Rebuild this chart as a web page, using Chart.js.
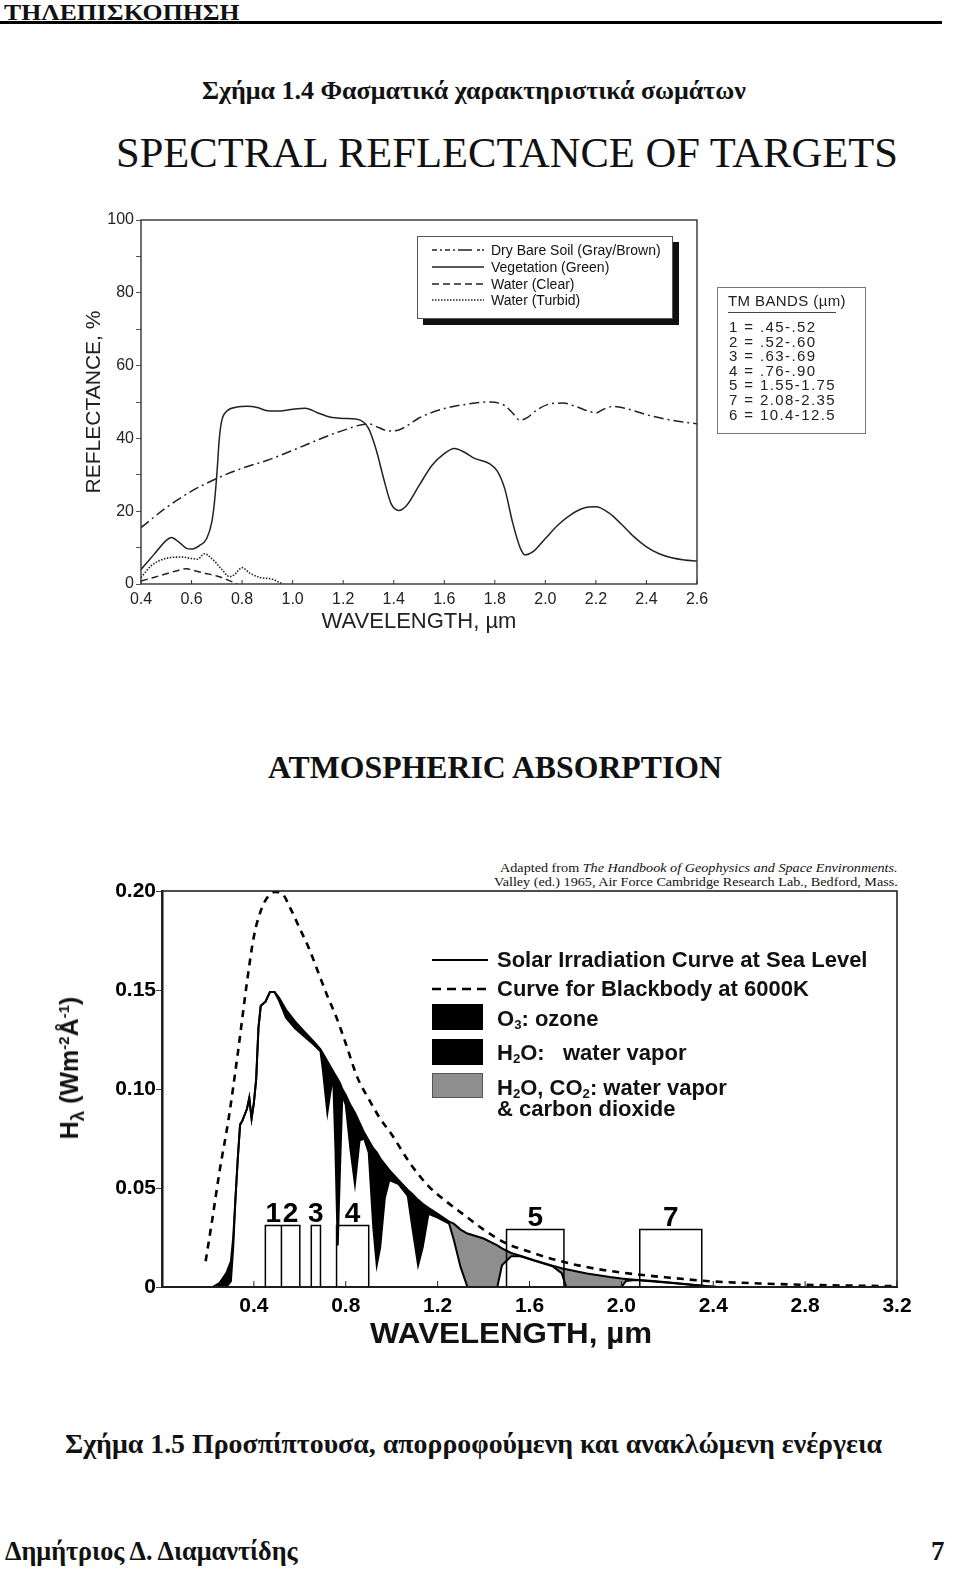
<!DOCTYPE html>
<html lang="el">
<head>
<meta charset="UTF-8">
<title>Φασματικά χαρακτηριστικά σωμάτων</title>
<script src="https://cdn.jsdelivr.net/npm/chart.js"></script>
<style>
  body { margin: 0; background: #fff; }
  #page { position: relative; width: 960px; height: 1593px; overflow: hidden; background: #fff; color: #111;
          font-family: "Liberation Sans", Arial, sans-serif; }
  .abs { position: absolute; white-space: nowrap; line-height: 1; }
  .serif { font-family: "Liberation Serif", "Times New Roman", serif; }
  .fit { transform-origin: 0 50%; }
  .fitR { transform-origin: 100% 50%; }
  #c1wrap { position: absolute; left: 50px; top: 200px; width: 680px; height: 450px; }
  #c2wrap { position: absolute; left: 20px; top: 865px; width: 920px; height: 500px; }
  .lg1 { position: absolute; left: 417px; top: 236px; width: 254px; height: 81px; border: 1px solid #555;
         box-shadow: 6px 6px 0 #111; background: #fff; font-size: 14px; }
  .lg1 .row { position: absolute; left: 14px; height: 16px; display: flex; align-items: center; }
  .lg1 svg { width: 52px; height: 6px; margin-right: 7px; }
  .tm { position: absolute; left: 717px; top: 287px; width: 147px; height: 145px; border: 1px solid #777;
        font-size: 15px; letter-spacing: 1.4px; color: #222; }
  .tm .hd { position: absolute; left: 10px; top: 5px; letter-spacing: 0.4px; }
  .tm .ul { position: absolute; left: 10px; top: 24px; width: 108px; height: 1px; background: #444; }
  .tm .r { position: absolute; left: 11px; }
  .lg2 { font-size: 22px; font-weight: bold; }
  .lg2 sub { font-size: 0.6em; vertical-align: -0.2em; }
  .patch { position: absolute; left: 432px; width: 51px; height: 26px; }
</style>
</head>
<body>
<div id="page">
  <div class="abs serif fit" data-w="236" style="left:4px; top:0px; font-size:24px; font-weight:bold;">ΤΗΛΕΠΙΣΚΟΠΗΣΗ</div>
  <div class="abs" style="left:0; top:21px; width:942px; height:3px; background:#000;"></div>

  <div class="abs serif fit" data-w="544" style="left:202px; top:78px; font-size:26px; font-weight:bold;">Σχήμα 1.4 Φασματικά χαρακτηριστικά σωμάτων</div>
  <div class="abs serif fit" data-w="782" style="left:116px; top:131px; font-size:43px;">SPECTRAL REFLECTANCE OF TARGETS</div>

  <div id="c1wrap"><canvas id="chartRefl"></canvas></div>

  <div class="lg1">
    <div class="row" style="top:5px;"><svg><line x1="0" y1="3" x2="52" y2="3" stroke="#222" stroke-width="1.4" stroke-dasharray="5,3,2,3,5,3,2,3,14"/></svg>Dry Bare Soil (Gray/Brown)</div>
    <div class="row" style="top:22px;"><svg><line x1="0" y1="3" x2="52" y2="3" stroke="#222" stroke-width="1.4"/></svg>Vegetation (Green)</div>
    <div class="row" style="top:39px;"><svg><line x1="0" y1="3" x2="52" y2="3" stroke="#222" stroke-width="1.4" stroke-dasharray="7,4"/></svg>Water (Clear)</div>
    <div class="row" style="top:55px;"><svg><line x1="0" y1="3" x2="52" y2="3" stroke="#222" stroke-width="1.6" stroke-dasharray="1.5,1.5"/></svg>Water (Turbid)</div>
  </div>

  <div class="tm">
    <div class="abs hd">TM BANDS (µm)</div>
    <div class="ul"></div>
    <div class="abs r" style="top:31px;">1 = .45-.52</div>
    <div class="abs r" style="top:46px;">2 = .52-.60</div>
    <div class="abs r" style="top:60px;">3 = .63-.69</div>
    <div class="abs r" style="top:75px;">4 = .76-.90</div>
    <div class="abs r" style="top:89px;">5 = 1.55-1.75</div>
    <div class="abs r" style="top:104px;">7 = 2.08-2.35</div>
    <div class="abs r" style="top:119px;">6 = 10.4-12.5</div>
  </div>

  <div class="abs serif fit" data-w="454" style="left:268px; top:752px; font-size:31px; font-weight:bold;">ATMOSPHERIC ABSORPTION</div>
  <div class="abs serif fitR" data-w="398" style="right:62px; top:861px; font-size:13px;">Adapted from <i>The Handbook of Geophysics and Space Environments.</i></div>
  <div class="abs serif fitR" data-w="404" style="right:62px; top:875px; font-size:13px;">Valley (ed.) 1965, Air Force Cambridge Research Lab., Bedford, Mass.</div>

  <div id="c2wrap"><canvas id="chartIrr"></canvas></div>

  <!-- legend of the absorption chart -->
  <svg class="abs" style="left:432px; top:956px;" width="56" height="8"><line x1="0" y1="4" x2="56" y2="4" stroke="#000" stroke-width="2"/></svg>
  <svg class="abs" style="left:432px; top:985px;" width="56" height="8"><line x1="0" y1="4" x2="56" y2="4" stroke="#000" stroke-width="2.6" stroke-dasharray="9,6"/></svg>
  <div class="patch" style="top:1004px; background:#000;"></div>
  <div class="patch" style="top:1039px; background:#000;"></div>
  <div class="patch" style="top:1073px; height:25px; background:#8e8e8e; border:1px solid #555; box-sizing:border-box;"></div>
  <div class="abs lg2" style="left:497px; top:949px;">Solar Irradiation Curve at Sea Level</div>
  <div class="abs lg2" style="left:497px; top:978px;">Curve for Blackbody at 6000K</div>
  <div class="abs lg2" style="left:497px; top:1008px;">O<sub>3</sub>: ozone</div>
  <div class="abs lg2" style="left:497px; top:1042px;">H<sub>2</sub>O:&nbsp;&nbsp; water vapor</div>
  <div class="abs lg2" style="left:497px; top:1077px;">H<sub>2</sub>O, CO<sub>2</sub>: water vapor</div>
  <div class="abs lg2" style="left:497px; top:1098px;">&amp; carbon dioxide</div>

  <div class="abs" style="left:72px; top:1068px; transform: translate(-50%,-50%) rotate(-90deg); font-size:25px; font-weight:bold;">H<sub style="font-size:0.75em;">λ</sub> (Wm<sup style="font-size:0.6em;">-2</sup>Å<sup style="font-size:0.6em;">-1</sup>)</div>
  <div class="abs fit" data-w="282" style="left:370px; top:1319px; font-size:29px; font-weight:bold;">WAVELENGTH, µm</div>

  <div class="abs serif fit" data-w="817" style="left:65px; top:1430px; font-size:28px; font-weight:bold;">Σχήμα 1.5 Προσπίπτουσα, απορροφούμενη και ανακλώμενη ενέργεια</div>
  <div class="abs serif fit" data-w="293" style="left:5px; top:1538px; font-size:27px; font-weight:bold;">Δημήτριος Δ. Διαμαντίδης</div>
  <div class="abs serif" style="left:931px; top:1538px; font-size:27px; font-weight:bold;">7</div>
</div>

<script>
  // ---- Σχήμα 1.4: ανακλαστικότητα (%) ανά μήκος κύματος (µm) ----
  const vegWl  = [0.40,0.45,0.50,0.52,0.55,0.58,0.60,0.63,0.66,0.68,0.69,0.70,0.71,0.72,0.74,0.78,0.82,0.86,0.90,0.95,1.00,1.05,1.10,1.15,1.20,1.25,1.28,1.30,1.33,1.36,1.39,1.42,1.45,1.50,1.55,1.60,1.64,1.68,1.72,1.78,1.81,1.84,1.87,1.90,1.92,1.95,2.00,2.05,2.10,2.15,2.20,2.25,2.30,2.35,2.40,2.45,2.50,2.55,2.60];
  const vegRef = [4,8,12,12.8,11.5,9.8,9.6,10.5,12.5,17,22,30,40,45,47.5,48.6,48.8,48.5,47.6,47.5,48,48.3,47,45.8,45.5,45.3,44.5,42.8,37,29,22,20.2,21.5,27,32.5,35.8,37.2,36.2,34.5,33,31,26,17,10,8,8.8,12.5,16.2,19,20.8,21.2,19.6,16.5,13,10.2,8.3,7.2,6.6,6.3];
  const soilWl  = [0.40,0.50,0.60,0.70,0.80,0.90,1.00,1.10,1.20,1.30,1.34,1.38,1.42,1.46,1.50,1.60,1.70,1.78,1.84,1.87,1.90,1.93,1.97,2.02,2.07,2.12,2.17,2.20,2.23,2.27,2.32,2.40,2.50,2.60];
  const soilRef = [15.5,21,25.5,29,31.8,34,36.7,39.6,42.2,44,43,42,42.3,43.8,45.6,48.2,49.5,50,49,47,45,45.8,48,49.5,49.7,48.8,47.5,47,48,48.8,48.2,46.5,45,44];
  const clearWl  = [0.40,0.45,0.50,0.55,0.58,0.61,0.65,0.70,0.74,0.78];
  const clearRef = [0.8,1.8,2.8,3.8,4.2,3.7,3.0,2.2,1.2,0];
  const turbidWl  = [0.40,0.44,0.48,0.52,0.56,0.60,0.625,0.65,0.68,0.72,0.75,0.77,0.80,0.83,0.87,0.92,0.96];
  const turbidRef = [1.8,5,6.6,7.3,7.4,7.0,6.8,8.3,7.0,4,2,2.6,4.5,3,1.8,1.3,0];
  const reflXTicks = [0.4,0.6,0.8,1.0,1.2,1.4,1.6,1.8,2.0,2.2,2.4,2.6];
  const reflYTicks = [0,10,20,30,40,50,60,70,80,90,100];

  // ---- Σχήμα 1.5: ηλιακή ακτινοβολία (Wm-2Å-1) ----
  const bbWl  = [0.19,0.22,0.25,0.29,0.33,0.37,0.40,0.43,0.46,0.49,0.52,0.56,0.60,0.64,0.68,0.72,0.76,0.80,0.85,0.90,0.95,1.00,1.08,1.16,1.24,1.32,1.40,1.50,1.60,1.72,1.86,2.00,2.20,2.40,2.60,2.80,3.00,3.20];
  const bbVal = [0.013,0.035,0.058,0.085,0.118,0.154,0.177,0.190,0.197,0.1995,0.199,0.191,0.181,0.171,0.159,0.147,0.136,0.123,0.106,0.095,0.085,0.077,0.0625,0.051,0.043,0.036,0.029,0.022,0.0178,0.0135,0.0098,0.0073,0.0048,0.0028,0.0018,0.0011,0.0007,0.0004];
  const solarWl  = [0.22,0.25,0.28,0.30,0.31,0.32,0.33,0.34,0.35,0.36,0.37,0.38,0.39,0.40,0.41,0.42,0.43,0.45,0.47,0.49,0.51,0.54,0.58,0.62,0.66,0.69,0.70,0.72,0.73,0.745,0.755,0.765,0.775,0.785,0.80,0.82,0.84,0.86,0.88,0.90,0.92,0.935,0.95,0.97,0.99,1.03,1.07,1.09,1.115,1.135,1.16,1.20,1.25,1.27,1.30,1.33,1.40,1.46,1.48,1.52,1.56,1.62,1.70,1.74,1.76,1.85,1.95,2.00,2.02,2.06,2.14,2.22,2.30,2.38,2.42];
  // upper envelope (before absorption)
  const solarTop = [0,0.002,0.007,0.013,0.025,0.045,0.065,0.082,0.084,0.087,
    0.090,0.0955,0.085,0.093,0.105,0.131,0.142,0.144,0.149,0.149,
    0.146,0.140,0.134,0.129,0.124,0.120,0.118,0.114,0.112,0.109,
    0.107,0.105,0.103,0.100,0.097,0.092,0.088,0.083,0.078,0.074,
    0.070,0.068,0.065,0.062,0.059,0.054,0.049,0.047,0.044,0.042,
    0.040,0.037,0.033,0.032,0.029,0.027,0.0245,0.021,0.0195,0.0172,
    0.0158,0.0135,0.0108,0.0095,0.009,0.0068,0.005,0.0043,0.0041,0.0037,
    0.003,0.0022,0.0013,0.0004,0];
  // sea level curve
  const solarSea = [0,0,0,0.003,0.02,0.045,0.065,0.082,0.084,0.087,
    0.090,0.0955,0.085,0.093,0.105,0.131,0.142,0.144,0.149,0.149,
    0.1445,0.136,0.1305,0.1265,0.1225,0.119,0.110,0.088,0.096,0.107,
    0.070,0.021,0.060,0.097,0.092,0.070,0.052,0.074,0.075,0.068,
    0.030,0.011,0.020,0.045,0.054,0.052,0.046,0.030,0.011,0.020,
    0.037,0.035,0.032,0.024,0.010,0,0,0,0.011,0.0155,
    0.0155,0.0133,0.0105,0.007,0,0,0,0,0.003,0.0035,
    0.0028,0.002,0.0011,0.0003,0];
  const greyFrom = 1.25;   // H2O, CO2 absorption drawn grey from here on
  const bandNames = ['1','2','3','4','5','7'];
  const bandStart = [0.45,0.52,0.65,0.76,1.50,2.08];
  const bandEnd   = [0.52,0.60,0.69,0.90,1.75,2.35];
  const bandTop   = [0.031,0.031,0.031,0.031,0.029,0.029];
  const irrXTicks = [0,0.4,0.8,1.2,1.6,2.0,2.4,2.8,3.2];
  const irrYTicks = [0,0.05,0.10,0.15,0.20];

  const pts = (xs, ys) => xs.map((x, i) => ({x: x, y: ys[i]}));
  const INK = '#222';

  // frame round the plot + short ticks inside on the x axis
  const framePlugin = {
    id: 'frame',
    afterDraw(chart, args, opts) {
      const {ctx, chartArea: a} = chart;
      const xs = chart.scales.x;
      ctx.save();
      ctx.strokeStyle = opts.color;
      ctx.lineWidth = opts.width;
      ctx.strokeRect(a.left, a.top, a.right - a.left, a.bottom - a.top);
      ctx.lineWidth = 1;
      xs.ticks.forEach(t => {
        const px = xs.getPixelForValue(t.value);
        ctx.beginPath();
        ctx.moveTo(px, a.bottom);
        ctx.lineTo(px, a.bottom - opts.tick);
        ctx.stroke();
      });
      ctx.restore();
    }
  };

  // band numbers above TM boxes
  const bandLabelPlugin = {
    id: 'bandLabels',
    afterDatasetsDraw(chart) {
      const {ctx, scales: {x, y}} = chart;
      ctx.save();
      ctx.font = 'bold 28px "Liberation Sans", Arial, sans-serif';
      ctx.textAlign = 'center';
      ctx.textBaseline = 'alphabetic';
      ctx.fillStyle = '#000';
      bandNames.forEach((n, i) => {
        ctx.fillText(n, x.getPixelForValue((bandStart[i] + bandEnd[i]) / 2), y.getPixelForValue(bandTop[i]) - 4);
      });
      ctx.restore();
    }
  };

  // Σχήμα 1.4
  new Chart(document.getElementById('chartRefl'), {
    type: 'line',
    data: {
      datasets: [
        { data: pts(vegWl, vegRef), borderColor: INK, borderWidth: 1.5 },
        { data: pts(soilWl, soilRef), borderColor: INK, borderWidth: 1.5, borderDash: [10, 4, 2, 4] },
        { data: pts(clearWl, clearRef), borderColor: INK, borderWidth: 1.5, borderDash: [7, 4] },
        { data: pts(turbidWl, turbidRef), borderColor: INK, borderWidth: 1.6, borderDash: [1.5, 1.5] }
      ]
    },
    options: {
      responsive: true, maintainAspectRatio: false, animation: false,
      layout: { padding: { top: 20, right: 33, left: 0, bottom: 0 } },
      elements: { point: { radius: 0 }, line: { cubicInterpolationMode: 'monotone', fill: false } },
      plugins: { legend: { display: false }, tooltip: { enabled: false }, frame: { color: '#333', width: 1.4, tick: 4 } },
      scales: {
        x: {
          type: 'linear', min: 0.4, max: 2.6,
          afterBuildTicks: s => { s.ticks = reflXTicks.map(v => ({ value: v })); },
          afterFit: s => { s.height = 66; },
          grid: { display: false, drawTicks: false },
          border: { display: false },
          ticks: { autoSkip: false, maxRotation: 0, padding: 6, color: INK,
                   font: { family: '"Liberation Sans", Arial, sans-serif', size: 16 },
                   callback: v => v.toFixed(1) },
          title: { display: true, text: 'WAVELENGTH, µm', color: INK, padding: { top: 0, bottom: 15 },
                   font: { family: '"Liberation Sans", Arial, sans-serif', size: 22 } }
        },
        y: {
          min: 0, max: 100,
          afterBuildTicks: s => { s.ticks = reflYTicks.map(v => ({ value: v })); },
          afterFit: s => { s.width = 91; },
          grid: { drawOnChartArea: false, tickLength: 5, color: '#555' },
          border: { display: false },
          ticks: { padding: 2, color: INK, font: { family: '"Liberation Sans", Arial, sans-serif', size: 16 },
                   callback: v => (v % 20 === 0 ? String(v) : '') },
          title: { display: true, text: 'REFLECTANCE, %', color: INK, padding: { top: 32, bottom: 0 },
                   font: { family: '"Liberation Sans", Arial, sans-serif', size: 21 } }
        }
      }
    },
    plugins: [framePlugin]
  });

  // Σχήμα 1.5
  const solarTopPts = pts(solarWl, solarTop);
  const boxPts = [];
  bandStart.forEach((s, i) => {
    boxPts.push({x: s, y: 0}, {x: s, y: bandTop[i]}, {x: bandEnd[i], y: bandTop[i]}, {x: bandEnd[i], y: 0}, {x: bandEnd[i], y: null});
  });

  new Chart(document.getElementById('chartIrr'), {
    type: 'line',
    data: {
      datasets: [
        { data: boxPts, borderColor: '#000', borderWidth: 1.5, tension: 0, fill: false },
        { data: pts(solarWl, solarSea), borderColor: '#000', borderWidth: 2, tension: 0, fill: false },
        { data: pts(bbWl, bbVal), borderColor: '#000', borderWidth: 2.6, borderDash: [7, 6],
          cubicInterpolationMode: 'monotone', fill: false },
        { data: solarTopPts.filter(p => p.x <= greyFrom), borderColor: '#000', borderWidth: 2, tension: 0,
          fill: 1, backgroundColor: '#000' },
        { data: solarTopPts.filter(p => p.x >= greyFrom), borderColor: '#000', borderWidth: 2, tension: 0,
          fill: 1, backgroundColor: '#8e8e8e' }
      ]
    },
    options: {
      responsive: true, maintainAspectRatio: false, animation: false,
      layout: { padding: { top: 26, right: 43, left: 0, bottom: 0 } },
      elements: { point: { radius: 0 } },
      plugins: { legend: { display: false }, tooltip: { enabled: false }, frame: { color: '#222', width: 1.6, tick: 6 } },
      scales: {
        x: {
          type: 'linear', min: 0, max: 3.2,
          afterBuildTicks: s => { s.ticks = irrXTicks.map(v => ({ value: v })); },
          afterFit: s => { s.height = 78; },
          grid: { display: false, drawTicks: false },
          border: { display: true, color: '#111', width: 2 },
          ticks: { autoSkip: false, maxRotation: 0, padding: 7, color: '#000',
                   font: { family: '"Liberation Sans", Arial, sans-serif', size: 21, weight: 'bold' },
                   callback: v => (v === 0 ? '' : v.toFixed(1)) }
        },
        y: {
          min: 0, max: 0.2,
          afterBuildTicks: s => { s.ticks = irrYTicks.map(v => ({ value: v })); },
          afterFit: s => { s.width = 142; },
          grid: { drawOnChartArea: false, tickLength: 6, color: '#444' },
          border: { display: true, color: '#111', width: 2.5 },
          ticks: { padding: 0, color: '#000',
                   font: { family: '"Liberation Sans", Arial, sans-serif', size: 21, weight: 'bold' },
                   callback: v => (v === 0 ? '0' : v.toFixed(2)) }
        }
      }
    },
    plugins: [framePlugin, bandLabelPlugin]
  });

  // squeeze scanned-looking headings to the measured widths
  function fitTexts() {
    document.querySelectorAll('[data-w]').forEach(el => {
      el.style.transform = 'none';
      const s = Number(el.dataset.w) / el.offsetWidth;
      el.style.transform = 'scaleX(' + s + ')';
    });
  }
  fitTexts();
  if (document.fonts) document.fonts.ready.then(fitTexts);
</script>
</body>
</html>
